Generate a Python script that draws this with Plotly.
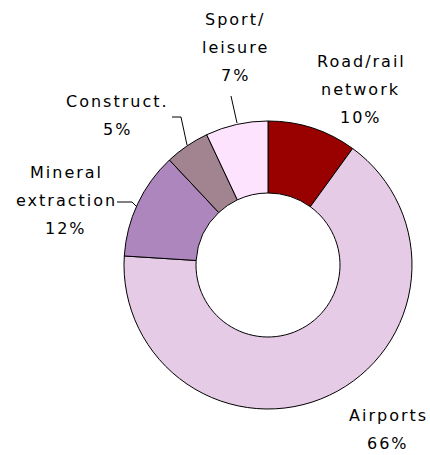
import plotly.graph_objects as go

# Land take by activity, share of total
categories = ["Road/rail network", "Airports", "Mineral extraction", "Construct.", "Sport/ leisure"]
shares = [10, 66, 12, 5, 7]
colors = ["#990000", "#E5CBE5", "#AD86BE", "#A28390", "#FDE3FD"]

# How each category name is broken into lines for its label
label_lines = {
    "Road/rail network": ["Road/rail", "network"],
    "Airports": ["Airports"],
    "Mineral extraction": ["Mineral", "extraction"],
    "Construct.": ["Construct."],
    "Sport/ leisure": ["Sport/", "leisure"],
}

W, H = 430, 455


def px(x):
    return x / W


def py(y):
    return 1 - y / H


fig = go.Figure(
    go.Pie(
        labels=categories,
        values=shares,
        hole=0.5,
        sort=False,
        direction="clockwise",
        rotation=0,
        marker=dict(colors=colors, line=dict(color="#000000", width=1)),
        textinfo="none",
        hoverinfo="label+percent",
        domain=dict(x=[px(124), px(412)], y=[py(409), py(121)]),
        showlegend=False,
    )
)

# Label anchor: (centre x of the block, y of the first line), pixels
label_pos = {
    "Road/rail network": (361, 62),
    "Airports": (388, 415),
    "Mineral extraction": (66, 172),
    "Construct.": (117, 101),
    "Sport/ leisure": (235, 20),
}
line_gap = 28
font = dict(family="DejaVu Sans", size=16, color="#000000")

annotations = []
for name, val in zip(categories, shares):
    lines = label_lines[name] + [f"{val}%"]
    cx, y0 = label_pos[name]
    for i, t in enumerate(lines):
        annotations.append(
            dict(
                x=px(cx), y=py(y0 + i * line_gap), xref="paper", yref="paper",
                text=t, showarrow=False, font=font,
                xanchor="center", yanchor="middle",
            )
        )

# Leader lines from labels to their slices
leaders = [
    [(231, 96), (237, 123)],
    [(172, 117), (181, 117), (187, 145)],
    [(117, 202), (132, 202), (137, 207)],
]
shapes = []
for pts in leaders:
    path = "M " + " L ".join(f"{px(x)},{py(y)}" for x, y in pts)
    shapes.append(dict(type="path", path=path, xref="paper", yref="paper",
                       line=dict(color="#000000", width=1)))

fig.update_layout(
    width=W, height=H,
    margin=dict(l=0, r=0, t=0, b=0),
    paper_bgcolor="#FFFFFF", plot_bgcolor="#FFFFFF",
    annotations=annotations, shapes=shapes,
)

# Widen the tracking of the label text
spacing_js = (
    "document.querySelectorAll('.annotation-text').forEach(function(e){"
    "e.setAttribute('letter-spacing','2px');});"
)

fig.write_html("out.html", post_script=spacing_js)
